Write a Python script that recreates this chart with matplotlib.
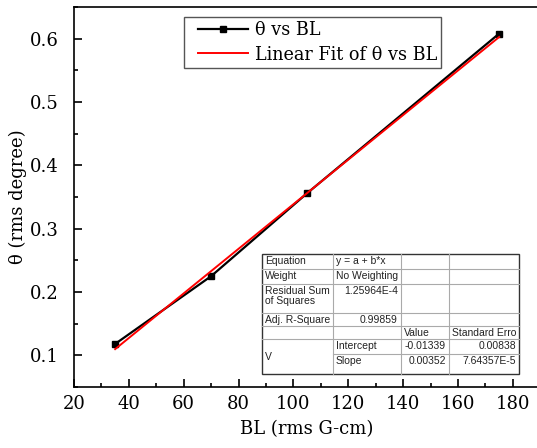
import matplotlib
matplotlib.use('Agg')
import matplotlib.pyplot as plt
import numpy as np
from matplotlib.ticker import MultipleLocator
from matplotlib.lines import Line2D
from matplotlib.legend_handler import HandlerLine2D

# data
bl = [35, 70, 105, 175]
theta = [0.118, 0.225, 0.356, 0.608]
intercept = -0.01339
slope = 0.00352

# fit report table (Origin style)
table_rows = [
    ["Equation", "y = a + b*x", "", ""],
    ["Weight", "No Weighting", "", ""],
    ["Residual Sum\nof Squares", "1.25964E-4", "", ""],
    ["Adj. R-Square", "0.99859", "", ""],
    ["", "", "Value", "Standard Erro"],
    ["V", "Intercept", "-0.01339", "0.00838"],
    ["", "Slope", "0.00352", "7.64357E-5"],
]

W, H = 537, 448
fig = plt.figure(figsize=(W / 100, H / 100), dpi=100)
plt.rcParams['font.family'] = ['DejaVu Serif']

x0, x1 = 20, 190
px_per_unit = (513 - 129) / 140.0
right_px = 74 + (x1 - x0) * px_per_unit
ax = fig.add_axes([74 / W, (H - 387) / H, (right_px - 74) / W, 380 / H])

xfit = np.array([bl[0], bl[-1]])
ax.plot(bl, theta, color='black', lw=1.6, marker='s', ms=5, zorder=3)
ax.plot(xfit, intercept + slope * xfit, color='red', lw=1.4, zorder=4)

ax.set_xlim(x0, x1)
ax.set_ylim(0.05, 0.65)
ax.xaxis.set_major_locator(MultipleLocator(20))
ax.xaxis.set_minor_locator(MultipleLocator(10))
ax.yaxis.set_major_locator(MultipleLocator(0.1))
ax.yaxis.set_minor_locator(MultipleLocator(0.05))
ax.tick_params(which='both', direction='in', top=False, right=False, labelsize=13, width=1.2)
ax.tick_params(which='major', length=6)
ax.tick_params(which='minor', length=3)
ax.tick_params(axis='y', which='major', pad=11)
ax.tick_params(axis='x', which='major', pad=6)
ax.spines['right'].set_visible(False)
for s in ['left', 'bottom', 'top']:
    ax.spines[s].set_linewidth(1.2)
ax.set_xlabel('BL (rms G-cm)', fontsize=13, labelpad=5)
ax.set_ylabel('θ (rms degree)', fontsize=13, labelpad=2)

handles = [Line2D([], [], color='black', lw=1.6, marker='s', ms=5),
           Line2D([], [], color='red', lw=1.4)]
leg = ax.legend(handles, ['θ vs BL', 'Linear Fit of θ vs BL'],
                loc='upper left', bbox_to_anchor=(184 / W, 1 - 17 / H),
                bbox_transform=fig.transFigure, fontsize=12.7, frameon=True,
                fancybox=False, edgecolor='#555555', framealpha=1,
                borderpad=0.25, labelspacing=0.35, handlelength=3.4, handletextpad=0.35,
                borderaxespad=0,
                handler_map={Line2D: HandlerLine2D(xpad=0.55)})
leg.get_frame().set_linewidth(1.0)

# table drawn in figure pixel coordinates
col_x = [262, 333, 401, 449, 519]
row_y = [254, 269, 284, 313, 326, 339, 354, 374]

def fx(px):
    return px / W

def fy(py):
    return 1 - py / H

# background
fig.patches.append(plt.Rectangle((fx(col_x[0]), fy(row_y[-1])),
                                 fx(col_x[-1]) - fx(col_x[0]), fy(row_y[0]) - fy(row_y[-1]),
                                 transform=fig.transFigure, facecolor='white',
                                 edgecolor='#333333', lw=1.0, zorder=5))
lc = '#aaaaaa'
for i, y in enumerate(row_y[1:-1], start=1):
    xs = col_x[1] if i == 6 else col_x[0]
    fig.add_artist(Line2D([fx(xs), fx(col_x[-1])], [fy(y), fy(y)], color=lc, lw=0.8, zorder=6))
for x in col_x[1:-1]:
    fig.add_artist(Line2D([fx(x), fx(x)], [fy(row_y[0]), fy(row_y[-1])], color=lc, lw=0.8, zorder=6))

tfont = dict(family='Liberation Sans', fontsize=7.5, color='#222222', zorder=7)
for r, row in enumerate(table_rows):
    for c, txt in enumerate(row):
        if not txt:
            continue
        yt = row_y[r] + 1.5
        va = 'top'
        if r == 5 and c == 0:
            yt = (row_y[5] + row_y[7]) / 2
            va = 'center'
        numeric = (c >= 2 and r >= 5) or (c == 1 and r in (2, 3))
        if numeric:
            xt = col_x[c + 1] - 3
            ha = 'right'
        else:
            xt = col_x[c] + 3
            ha = 'left'
        fig.text(fx(xt), fy(yt), txt, ha=ha, va=va, linespacing=1.1, **tfont)

fig.savefig('out.png', dpi=100)
